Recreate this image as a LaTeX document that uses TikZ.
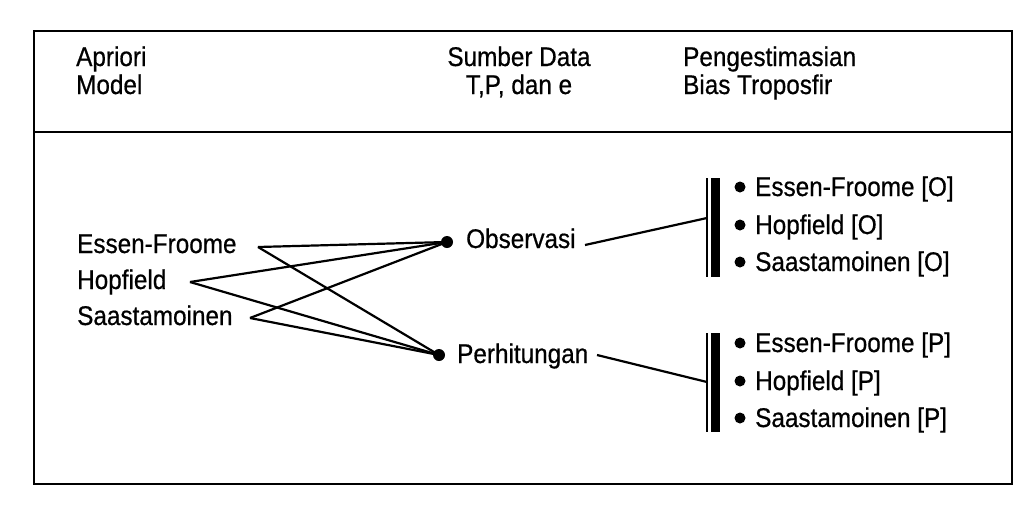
\documentclass[tikz,border=0pt]{standalone}
\usepackage{fontspec}
\setmainfont{Liberation Sans}[FakeStretch=0.9,FakeBold=0.6]
\begin{document}
\begin{tikzpicture}[x=1pt,y=-1pt,
  txt/.style={anchor=base west,inner sep=0pt,font=\fontsize{27}{30}\selectfont},
  hdr/.style={inner sep=0pt,font=\fontsize{27}{28}\selectfont},
  dotn/.style={circle,fill=black,inner sep=0pt,minimum size=12pt},
  link/.style={line width=2.2pt},
  bull/.style={circle,fill=black,inner sep=0pt,minimum size=11pt}]
\useasboundingbox (0,0) rectangle (1034,504);
% frame
\draw[line width=2.2pt] (34,31) rectangle (1012,484);
\draw[line width=2.2pt] (34,132) -- (1012,132);
% headers
\node[hdr,anchor=base west] (h1a) at (76,66) {Apriori};
\node[hdr,anchor=base west] (h1b) at (76,94) {Model};
\node[hdr,anchor=base] (h2a) at (519,66) {Sumber Data};
\node[hdr,anchor=base] (h2b) at (519,94) {T,P, dan e};
\node[hdr,anchor=base west] (h3a) at (683,66) {Pengestimasian};
\node[hdr,anchor=base west] (h3b) at (683,94) {Bias Troposfir};
% left models
\node[txt] (ef) at (77,253) {Essen-Froome};
\node[txt] (hf) at (77,289) {Hopfield};
\node[txt] (sa) at (77,325) {Saastamoinen};
\coordinate (efR) at (258,247);
\coordinate (hfR) at (190,282);
\coordinate (saR) at (250,318);
% middle
\node[dotn] (obs) at (447,242) {};
\node[dotn] (per) at (439,355) {};
\node[txt] (obsT) at (466,248) {Observasi};
\node[txt] (perT) at (457,363) {Perhitungan};
\draw[link] (efR) -- (obs.center);
\draw[link] (efR) -- (per.center);
\draw[link] (hfR) -- (obs.center);
\draw[link] (hfR) -- (per.center);
\draw[link] (saR) -- (obs.center);
\draw[link] (saR) -- (per.center);
% bars
\draw[line width=1.6pt] (707,178) -- (707,277);
\fill (711,178) rectangle (720,277);
\draw[line width=1.6pt] (707,333) -- (707,432);
\fill (711,333) rectangle (720,432);
\coordinate (barO) at (707,218);
\coordinate (barP) at (707,382);
\coordinate (obsE) at (585,245);
\coordinate (perE) at (597,355);
\draw[link] (obsE) -- (barO);
\draw[link] (perE) -- (barP);
% right lists
\foreach \n/\y/\t in {o1/196/Essen-Froome [O],o2/234/Hopfield [O],o3/271/Saastamoinen [O],p1/352/Essen-Froome [P],p2/390/Hopfield [P],p3/427/Saastamoinen [P]}{
  \node[bull] (b\n) at (740,\y-9) {};
  \node[txt] (t\n) at (755,\y) {\t};
}
\end{tikzpicture}
\end{document}
